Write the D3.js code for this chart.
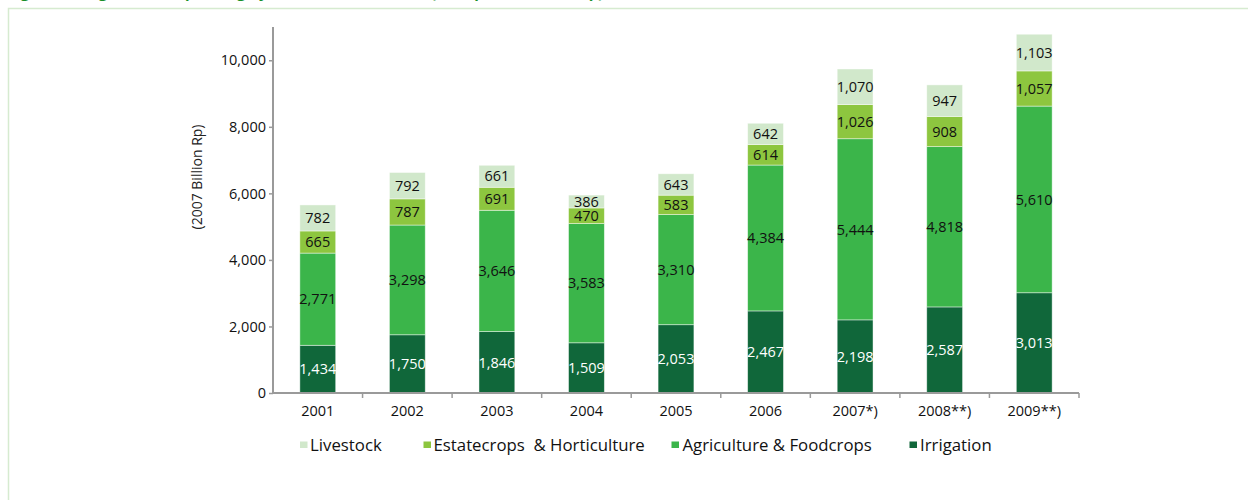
<!DOCTYPE html>
<html>
<head>
<meta charset="utf-8">
<script src="https://cdn.jsdelivr.net/npm/d3@7"></script>
<style>
  html, body { margin: 0; padding: 0; background: #fff; }
  svg { display: block; }
  text { font-family: "Open Sans", "Noto Sans", sans-serif; }
</style>
</head>
<body>
<svg id="chart" width="1248" height="500"></svg>
<script>
// Agriculture spending by subsector (2007 Billion Rp)
const years = ["2001", "2002", "2003", "2004", "2005", "2006", "2007*)", "2008**)", "2009**)"];
const irrigation  = [1434, 1750, 1846, 1509, 2053, 2467, 2198, 2587, 3013];
const agriculture = [2771, 3298, 3646, 3583, 3310, 4384, 5444, 4818, 5610];
const estatecrops = [665, 787, 691, 470, 583, 614, 1026, 908, 1057];
const livestock   = [782, 792, 661, 386, 643, 642, 1070, 947, 1103];
const yTicks = [0, 2000, 4000, 6000, 8000, 10000];

const seriesKeys   = ["irrigation", "agriculture", "estatecrops", "livestock"];
const seriesNames  = { irrigation: "Irrigation", agriculture: "Agriculture & Foodcrops",
                       estatecrops: "Estatecrops  & Horticulture", livestock: "Livestock" };
const seriesColors = { irrigation: "#10673a", agriculture: "#3bb54a",
                       estatecrops: "#8dc63f", livestock: "#d1e8cb" };
const labelColors  = { irrigation: "#ffffff", agriculture: "#111", estatecrops: "#111", livestock: "#111" };

const rows = years.map((y, i) => ({
  year: y,
  irrigation: irrigation[i],
  agriculture: agriculture[i],
  estatecrops: estatecrops[i],
  livestock: livestock[i]
}));

const svg = d3.select("#chart");

// outer frame and heading
svg.append("rect")
  .attr("x", 8.5).attr("y", 8.5).attr("width", 1260).attr("height", 520)
  .attr("fill", "none").attr("stroke", "#d6ebd0").attr("stroke-width", 1.5);
svg.append("text")
  .attr("x", 8).attr("y", -2)
  .attr("fill", "#1a8f2a").attr("font-size", 15).attr("font-weight", "bold")
  .text("Figure 4.3: Agriculture Spending by Subsector, 2001-2009 (2007 prices, Billion Rp)");

const x = d3.scaleBand().domain(years).range([273, 1079]).paddingInner(0.6).paddingOuter(0.3);
const y = d3.scaleLinear().domain([0, 11000]).range([393, 27]);

const stack = d3.stack().keys(seriesKeys);
const layers = stack(rows);

const g = svg.append("g");
layers.forEach(layer => {
  const key = layer.key;
  const lg = g.append("g");
  lg.selectAll("rect").data(layer).join("rect")
    .attr("x", d => x(d.data.year))
    .attr("width", x.bandwidth())
    .attr("y", d => y(d[1]))
    .attr("height", d => y(d[0]) - y(d[1]))
    .attr("fill", seriesColors[key])
    .attr("stroke", "rgba(255,255,255,0.55)")
    .attr("stroke-width", 0.8);
  lg.selectAll("text").data(layer).join("text")
    .attr("x", d => x(d.data.year) + x.bandwidth() / 2)
    .attr("y", d => (y(d[0]) + y(d[1])) / 2)
    .attr("dy", "0.36em")
    .attr("text-anchor", "middle")
    .attr("font-size", 14.5)
    .attr("fill", labelColors[key])
    .text(d => d3.format(",")(d.data[key]));
});

// axes
const yAxis = d3.axisLeft(y).tickValues(yTicks).tickFormat(d3.format(",")).tickSize(4).tickSizeOuter(0);
const yg = svg.append("g").attr("transform", "translate(273,0)").call(yAxis);
yg.select(".domain").attr("stroke", "#9a9a9a").attr("stroke-width", 2).attr("d", "M0,27V393");
yg.selectAll(".tick line").attr("stroke", "#9a9a9a").attr("stroke-width", 1.5);
yg.selectAll(".tick text").attr("font-size", 14.5).attr("fill", "#111").attr("x", -7)
  .style("font-family", '"Open Sans", "Noto Sans", sans-serif');

const xg = svg.append("g").attr("transform", "translate(0,393)");
xg.append("line").attr("x1", 273).attr("x2", 1079).attr("y1", 0).attr("y2", 0)
  .attr("stroke", "#9a9a9a").attr("stroke-width", 2);
const bounds = years.map(yr => x(yr) - x.step() * x.paddingInner() / 2).concat([1079]);
xg.selectAll("line.tk").data(bounds.slice(1)).join("line").attr("class", "tk")
  .attr("x1", d => d).attr("x2", d => d).attr("y1", 0).attr("y2", 5)
  .attr("stroke", "#9a9a9a").attr("stroke-width", 1.5);
xg.selectAll("text").data(years).join("text")
  .attr("x", d => x(d) + x.bandwidth() / 2)
  .attr("y", 23)
  .attr("text-anchor", "middle")
  .attr("font-size", 14.5)
  .attr("fill", "#111")
  .text(d => d);

// y axis title
svg.append("text")
  .attr("transform", "translate(202,177) rotate(-90)")
  .attr("text-anchor", "middle")
  .attr("font-size", 14)
  .attr("fill", "#222")
  .text("(2007 Billion Rp)");

// legend
const legendItems = [
  { key: "livestock", sx: 300, tx: 310 },
  { key: "estatecrops", sx: 423.5, tx: 433.5 },
  { key: "agriculture", sx: 671.5, tx: 682.5 },
  { key: "irrigation", sx: 909.5, tx: 920 }
];
const leg = svg.append("g");
legendItems.forEach(it => {
  leg.append("rect").attr("x", it.sx).attr("y", 441.5).attr("width", 7.5).attr("height", 6.5)
    .attr("fill", seriesColors[it.key]);
  leg.append("text").attr("x", it.tx).attr("y", 450.7)
    .attr("font-size", 16.8).attr("fill", "#111")
    .attr("xml:space", "preserve").style("white-space", "pre")
    .text(seriesNames[it.key]);
});
</script>
</body>
</html>
